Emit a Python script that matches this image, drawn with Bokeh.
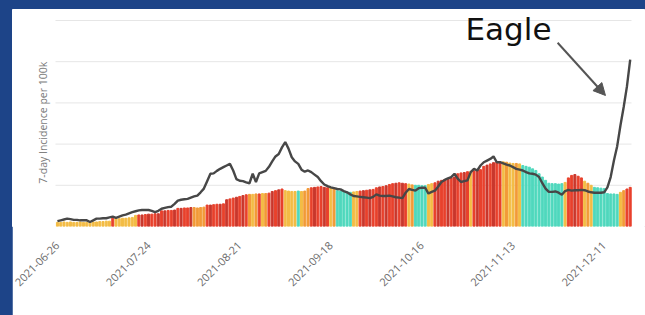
import math
from bokeh.plotting import figure
from bokeh.models import FixedTicker, Label, Arrow, NormalHead, Range1d, ColumnDataSource
from bokeh.embed import file_html
from bokeh.resources import INLINE

# ---------------- data ----------------
tick_days = [0, 28, 56, 84, 112, 140, 168]
tick_labels = ["2021-06-26", "2021-07-24", "2021-08-21", "2021-09-18",
               "2021-10-16", "2021-11-13", "2021-12-11"]
grid_levels = [100, 200, 300, 400, 500]

bar_values = [
    10, 10, 11, 10, 11, 10, 10, 11, 10, 10,
    10, 11, 11, 12, 12, 13, 13,
    23,
    19, 19, 20, 20, 21, 22,
    27, 28, 28, 29, 30, 30, 31, 31,
    38, 38, 39, 39, 40,
    44, 44, 45, 45, 46, 46, 45, 46, 47,
    52, 52, 53, 54, 54, 55,
    65, 67, 69, 71, 73, 75,
    77, 78, 78, 79, 79, 80, 80, 81,
    85, 87, 89, 91,
    87, 86, 85, 85, 86, 85, 86,
    92, 94, 95, 96, 97, 95, 94,
    93, 92,
    87, 86, 85, 84, 83,
    84, 85, 86, 87, 88, 89, 90,
    94, 96, 97, 99,
    102, 104, 105, 106, 105, 104,
    103, 101, 100, 100, 99, 99,
    102, 104, 106,
    110, 112, 114, 116, 118, 120,
    128, 130, 131, 133,
    134, 135, 137, 138,
    146, 149, 152, 155,
    157, 156, 157, 156,
    154, 153, 153, 152,
    148, 146, 144, 140, 136,
    128, 120, 112,
    105, 104, 104, 103, 104,
    107,
    118, 124, 126, 122, 118,
    110, 105, 100,
    95, 94, 93, 92,
    80, 79, 79, 78,
    83, 87, 91, 95,
]

bar_codes = "".join([
    "YYYYYYYYYYYYYYYYY",
    "R",
    "YYYYYYY",
    "RDRDRRDRDRRDRDRRD",
    "OOOO",
    "RDRRDRDRRDRDR",
    "OYORYO",
    "RDRDR",
    "YYYY",
    "T",
    "YOO",
    "RDRRDR",
    "YO",
    "TTTTT",
    "YY",
    "RDRDRRDRDRRDRDR",
    "YO",
    "TTTT",
    "YY",
    "RDRRDRDRRDRYRDRRDRDRR",
    "YOYYOY",
    "TTTTTTTTTTTTT",
    "Y",
    "RRDRR",
    "YOY",
    "TTTTTTTT",
    "Y",
    "ORR",
])

line_values = [
    13, 15, 17, 19, 18, 16, 16, 15, 15, 15,
    11, 15, 19, 19, 20, 20, 22, 24, 21, 24,
    27, 29, 32, 35, 37, 39, 40, 40, 40, 38,
    35, 38, 43, 45, 47, 48, 55, 63, 65, 66,
    67, 70, 73, 75, 83, 92, 110, 128, 129, 135,
    140, 144, 148, 152, 136, 115, 111, 110, 107, 105,
    128, 108, 129, 132, 135, 145, 158, 170, 176, 192,
    205, 189, 168, 158, 152, 138, 133, 136, 132, 126,
    120, 110, 102, 98, 95, 93, 91, 90, 86, 83,
    78, 74, 73, 72, 71, 70, 69, 72, 78, 75,
    74, 74, 75, 73, 71, 70, 69, 82, 91, 89,
    87, 93, 94, 94, 80, 84, 87, 97, 108, 113,
    117, 120, 128, 116, 108, 110, 112, 132, 140, 136,
    148, 156, 160, 164, 170, 156, 156, 153, 150, 148,
    144, 140, 138, 136, 132, 129, 128, 126, 120, 105,
    92, 84, 84, 85, 82, 77, 86, 89, 87, 88,
    88, 89, 88, 85, 83, 82, 82, 82, 83, 95,
    120, 160, 195, 245, 290, 340, 405,
]

palette = {"R": "#e8412c", "D": "#c9372c", "Y": "#f3bc45",
           "O": "#f29a37", "T": "#4fd8bd"}

days = list(range(len(bar_values)))
bar_colors = [palette[c] for c in bar_codes]

src = ColumnDataSource(dict(day=days, val=bar_values, color=bar_colors))

# ---------------- figure ----------------
# the frame fills the figure above the x axis; gridlines are drawn only over the data span
p = figure(width=633, height=306, output_backend="svg", toolbar_location=None,
           x_range=Range1d(-13.81, 180.70), y_range=Range1d(0, 526.7),
           min_border_left=0, min_border_right=0, min_border_top=0,
           min_border_bottom=89)
p.background_fill_color = "white"
p.border_fill_color = "white"
p.outline_line_color = "white"
p.outline_line_alpha = 1.0

p.xgrid.visible = False
p.ygrid.visible = False
p.yaxis.visible = False

x_lo = days[0] - 0.6
x_hi = days[-1] + 0.4
p.segment(x0=[x_lo] * len(grid_levels), x1=[x_hi] * len(grid_levels),
          y0=grid_levels, y1=grid_levels, line_color="#e6e6e6", line_width=1)

p.vbar(x="day", top="val", width=0.62, color="color", source=src)
p.line(days, line_values, line_color="#474747", line_width=2.4)

xa = p.xaxis[0]
xa.ticker = FixedTicker(ticks=tick_days)
xa.major_label_overrides = {d: l for d, l in zip(tick_days, tick_labels)}
xa.major_label_orientation = math.pi / 4
xa.major_label_text_font = "Open Sans"
xa.major_label_text_font_size = "11px"
xa.major_label_text_color = "#6b6b6b"
xa.major_label_standoff = 11
xa.major_tick_line_color = None
xa.minor_tick_line_color = None
xa.axis_line_color = None

p.add_layout(Label(x=-4.44, y=252, text="7-day Incidence per 100k",
                   angle=math.pi / 2, text_align="center", text_baseline="middle",
                   text_font="Open Sans", text_font_size="10.5px",
                   text_color="#7a7a7a"))

p.add_layout(Label(x=125.4, y=480, text="Eagle", text_align="left",
                   text_baseline="alphabetic", text_font="DejaVu Sans",
                   text_font_size="31px", text_color="#111111"))

p.add_layout(Arrow(end=NormalHead(size=12, fill_color="#555555", line_color="#555555"),
                   x_start=153.7, y_start=446, x_end=168.4, y_end=318,
                   line_color="#555555", line_width=2))

html = file_html(p, INLINE)
html = html.replace("</head>",
                    "<style>html,body{background:#1d4488;margin:0;overflow:hidden;}"
                    "body{padding:9px 0 0 12px;box-sizing:border-box;}</style></head>", 1)
open("out.html", "w").write(html)
